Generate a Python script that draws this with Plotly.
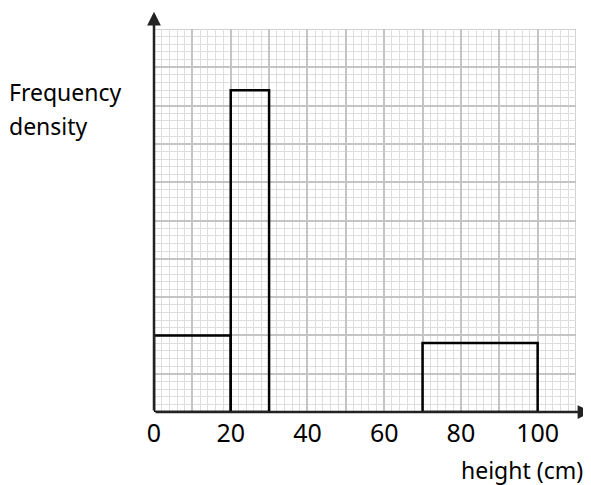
import plotly.graph_objects as go

bin_left = [0, 20, 70]
bin_right = [20, 30, 100]
density = [2.0, 8.4, 1.8]
x_tick_vals = [0, 20, 40, 60, 80, 100]
x_tick_text = ["0", "20", "40", "60", "80", "100"]

centers = [(a + b) / 2 for a, b in zip(bin_left, bin_right)]
widths = [b - a for a, b in zip(bin_left, bin_right)]

FONT = "Comic Sans MS, Noto Sans, sans-serif"

fig = go.Figure()
fig.add_trace(go.Bar(
    x=centers, y=density, width=widths,
    marker=dict(color="rgba(0,0,0,0)", line=dict(color="black", width=2.5)),
    hoverinfo="skip",
))

# page body has an 8px margin, so the figure is offset by 8px
fig.update_layout(
    width=583, height=477,
    margin=dict(l=146, r=15, t=21, b=73),
    paper_bgcolor="white", plot_bgcolor="white",
    showlegend=False,
    xaxis=dict(
        range=[0, 110], tickmode="array",
        tickvals=list(range(0, 111, 10)),
        ticktext=[x_tick_text[x_tick_vals.index(v)] if v in x_tick_vals else "" for v in range(0, 111, 10)],
        showgrid=True, gridcolor="#c4c4c4", gridwidth=1.5,
        minor=dict(tickmode="linear", tick0=0, dtick=2, showgrid=True, gridcolor="#dedede", gridwidth=1),
        zeroline=False, showline=False, ticks="",
        ticklabelstandoff=4,
        tickfont=dict(family=FONT, size=25, color="black"),
        fixedrange=True,
    ),
    yaxis=dict(
        range=[0, 10], tickmode="linear", tick0=0, dtick=1,
        showgrid=True, gridcolor="#c4c4c4", gridwidth=1.5,
        minor=dict(tickmode="linear", tick0=0, dtick=0.2, showgrid=True, gridcolor="#dedede", gridwidth=1),
        showticklabels=False, zeroline=False, showline=False, ticks="",
        fixedrange=True,
    ),
)

fig.add_shape(type="rect", xref="x", yref="y", x0=0, x1=110, y0=0, y1=10,
              line=dict(color="#c4c4c4", width=1.5), layer="below")

fig.add_annotation(x=0, y=10.45, ax=0, ay=0, xref="x", yref="y", axref="x", ayref="y",
                   showarrow=True, arrowhead=2, arrowsize=1.1, arrowwidth=2.5, arrowcolor="#222", text="")
fig.add_annotation(x=114, y=0, ax=0, ay=0, xref="x", yref="y", axref="x", ayref="y",
                   showarrow=True, arrowhead=2, arrowsize=1.1, arrowwidth=2.5, arrowcolor="#222", text="")

fig.add_annotation(text="Frequency", xref="paper", yref="paper", x=-147/422, y=1 - (92 - 29) / 383,
                   xanchor="left", yanchor="middle", showarrow=False,
                   font=dict(family=FONT, size=23, color="black"))
fig.add_annotation(text="density", xref="paper", yref="paper", x=-147/422, y=1 - (126 - 29) / 383,
                   xanchor="left", yanchor="middle", showarrow=False,
                   font=dict(family=FONT, size=23, color="black"))
fig.add_annotation(text="height (cm)", xref="paper", yref="paper", x=(585 - 154) / 422, y=-(470 - 412) / 383,
                   xanchor="right", yanchor="middle", showarrow=False,
                   font=dict(family=FONT, size=23, color="black"))

fig.write_html("out.html")
